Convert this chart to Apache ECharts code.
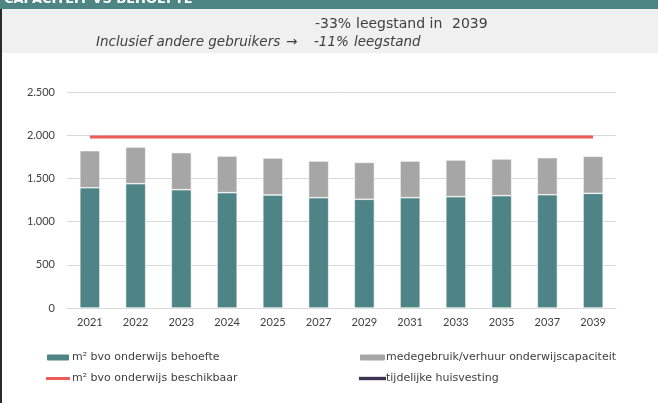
<!DOCTYPE html>
<html>
<head>
<meta charset="utf-8">
<script src="https://cdn.jsdelivr.net/npm/echarts@6/dist/echarts.min.js"></script>
<style>
html,body{margin:0;padding:0;background:#fff;}
#chart{width:658px;height:403px;}
</style>
</head>
<body>
<div id="chart"></div>
<script>
const categories = ['2021','2022','2023','2024','2025','2027','2029','2031','2033','2035','2037','2039'];
const behoefte = [1392, 1439, 1369, 1335, 1308, 1277, 1258, 1277, 1288, 1300, 1311, 1327];
const medegebruik = [429, 424, 429, 424, 428, 424, 428, 424, 425, 425, 429, 429];
const beschikbaar = [1980, 1980, 1980, 1980, 1980, 1980, 1980, 1980, 1980, 1980, 1980, 1980];
const tijdelijk = [null, null, null, null, null, null, null, null, null, null, null, null];
const yTicks = [0, 500, 1000, 1500, 2000, 2500];
const seriesNames = ['m² bvo onderwijs behoefte', 'medegebruik/verhuur onderwijscapaciteit', 'm² bvo onderwijs beschikbaar', 'tijdelijke huisvesting'];
const titleText = 'CAPACITEIT VS BEHOEFTE';
const noteLine1 = ['-33%', 'leegstand in', '2039'];
const noteLine2 = ['Inclusief andere gebruikers', '→', '-11%', 'leegstand'];

const FONT = 'Lato, "DejaVu Sans", sans-serif';
const WIDE = '"DejaVu Sans", sans-serif';
const chart = echarts.init(document.getElementById('chart'), null, {renderer: 'canvas'});

const fmt = v => String(v).replace(/\B(?=(\d{3})+(?!\d))/g, '.');
const LINE_ICON = 'path://M0,0H24V3H0Z';

const txt = (s, x, y, size, italic) => ({type: 'text', x: x, y: y,
  style: {text: s, fill: '#404040', font: (italic ? 'italic ' : '') + size + 'px ' + WIDE, verticalAlign: 'middle', align: 'left'}});

chart.setOption({
  animation: false,
  backgroundColor: '#ffffff',
  textStyle: {fontFamily: FONT},
  graphic: [
    {type: 'rect', left: 0, top: 0, shape: {width: 658, height: 9}, style: {fill: '#4d8484'}, z: -1},
    {type: 'rect', left: 0, top: 9, shape: {width: 658, height: 44}, style: {fill: '#f0f0f0'}, z: -1},
    {type: 'rect', left: 0, top: 9, shape: {width: 2, height: 394}, style: {fill: '#2b2b2b'}, z: 10},
    {type: 'text', left: 4, top: -7, style: {text: titleText, fill: '#ffffff', font: 'bold 13px ' + WIDE}},
    txt(noteLine1[0], 315, 24, 14), txt(noteLine1[1], 356, 24, 14), txt(noteLine1[2], 452, 24, 14),
    txt(noteLine2[0], 96, 42.5, 13.5, true), txt(noteLine2[1], 286, 42.5, 13.5, true),
    txt(noteLine2[2], 314, 42.5, 13.5, true), txt(noteLine2[3], 354, 42.5, 13.5, true)
  ],
  grid: {left: 67, right: 42, top: 92, bottom: 95, containLabel: false},
  legend: [
    {data: [seriesNames[0], {name: seriesNames[2], icon: LINE_ICON}], left: 45, top: 352, orient: 'vertical', padding: 0,
     itemGap: 10, itemWidth: 24, itemHeight: 8,
     textStyle: {fontSize: 11, color: '#404040', fontFamily: WIDE, padding: [0,0,0,-3]}},
    {data: [seriesNames[1], {name: seriesNames[3], icon: LINE_ICON}], left: 358, top: 352, orient: 'vertical', padding: 0,
     itemGap: 10, itemWidth: 27, itemHeight: 8,
     textStyle: {fontSize: 11, color: '#404040', fontFamily: WIDE, padding: [0,0,0,-5]}}
  ],
  xAxis: {
    type: 'category', data: categories,
    axisLine: {show: true, lineStyle: {color: '#d9d9d9'}},
    axisTick: {show: false},
    axisLabel: {color: '#404040', fontSize: 11, margin: 9, fontFamily: FONT}
  },
  yAxis: {
    type: 'value', min: 0, max: 2500, interval: 500,
    axisLine: {show: false}, axisTick: {show: false},
    splitLine: {lineStyle: {color: '#d9d9d9', width: 1}},
    axisLabel: {color: '#404040', fontSize: 11, margin: 12, fontFamily: FONT,
      formatter: v => yTicks.includes(v) ? fmt(v) : ''}
  },
  series: [
    {name: seriesNames[0], type: 'bar', stack: 'cap', data: behoefte, barWidth: '44%',
     itemStyle: {color: '#4e8485', borderColor: '#ffffff', borderWidth: 0.6}},
    {name: seriesNames[1], type: 'bar', stack: 'cap', data: medegebruik, barWidth: '44%',
     itemStyle: {color: '#a6a6a6', borderColor: '#ffffff', borderWidth: 0.6}},
    {name: seriesNames[2], type: 'line', data: beschikbaar, symbol: 'none', showSymbol: false,
     lineStyle: {color: '#ef5b5b', width: 3}, itemStyle: {color: '#ef5b5b'}},
    {name: seriesNames[3], type: 'line', data: tijdelijk, symbol: 'none', showSymbol: false,
     lineStyle: {color: '#3a3450', width: 3}, itemStyle: {color: '#3a3450'}}
  ]
});
</script>
</body>
</html>
